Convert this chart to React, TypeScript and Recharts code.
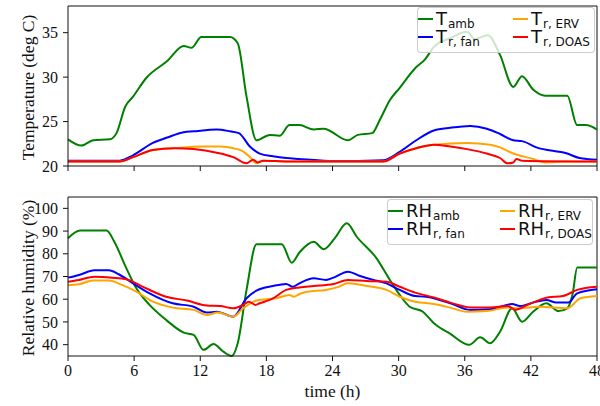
import React from 'react';
import { LineChart, Line, XAxis, YAxis, ReferenceLine } from 'recharts';

// hours on the shared x axis
const hourTicks = [0, 6, 12, 18, 24, 30, 36, 42, 48];
const tempTicks = [20, 25, 30, 35];
const rhTicks = [40, 50, 60, 70, 80, 90, 100];

// [hour, deg C]
const tAmb: [number, number][] = [
  [0, 23.0], [1.2, 22.3], [2.3, 22.9], [3.8, 23.0], [4.4, 23.7], [5.2, 26.7], [5.9, 27.8], [7.1, 29.9],
  [9.0, 31.8], [10.5, 33.5], [11.2, 33.3], [12.1, 34.5], [14.7, 34.5], [15.4, 33.8], [16.2, 27.8], [17.1, 22.9],
  [18.3, 23.5], [19.2, 23.4], [20.1, 24.6], [21.0, 24.6], [22.3, 24.1], [23.2, 24.2], [25.4, 22.9], [26.3, 23.5],
  [27.6, 23.7], [28.3, 25.2], [29.2, 27.4], [30.1, 28.8], [31.5, 31.0], [32.4, 32.0], [33.2, 33.4], [34.7, 34.4],
  [36.2, 35.1], [36.9, 34.3], [38.1, 34.7], [39.2, 32.5], [40.4, 28.9], [41.2, 30.1], [42.2, 28.6], [43.3, 27.9],
  [45.3, 27.9], [46.2, 24.6], [47.0, 24.6], [48, 24.1],
];
const tFan: [number, number][] = [
  [0, 20.6], [4.7, 20.6], [5.9, 21.2], [7.7, 22.6], [9.0, 23.2], [10.5, 23.8], [11.4, 23.9], [13.5, 24.1],
  [14.7, 23.9], [15.5, 23.7], [16.5, 22.2], [17.4, 21.4], [18.6, 21.1], [19.8, 20.9], [21, 20.8], [24.1, 20.55],
  [28.6, 20.65], [30.1, 21.6], [31.6, 22.9], [33.2, 24.0], [34.7, 24.3], [36.5, 24.5], [38, 24.2], [39.2, 23.6],
  [40.4, 22.9], [41.2, 22.8], [42.5, 22.1], [45.3, 21.4], [46.4, 20.9], [48, 20.7],
];
const tErv: [number, number][] = [
  [0, 20.5], [4.7, 20.5], [5.9, 21.0], [7.7, 21.8], [9.6, 22.0], [12.1, 22.2], [13.9, 22.2], [15.0, 22.0],
  [15.8, 21.7], [16.6, 20.9], [17.1, 20.3], [17.6, 20.6], [20, 20.5], [28.6, 20.5], [30.1, 21.4], [31.6, 22.0],
  [33.2, 22.4], [36.2, 22.6], [38.3, 22.4], [39.2, 22.1], [40.4, 21.4], [42.2, 20.8], [43.2, 20.4], [45.3, 20.5],
  [48, 20.5],
];
const tDoas: [number, number][] = [
  [0, 20.5], [4.7, 20.5], [5.9, 21.0], [7.7, 21.8], [9.6, 22.0], [11.4, 21.9], [13.5, 21.5], [15.0, 21.0],
  [16.2, 20.3], [16.8, 20.7], [17.2, 20.4], [17.7, 20.6], [20, 20.5], [28.6, 20.5], [30.1, 21.4], [31.6, 22.0],
  [33.2, 22.4], [34.7, 22.2], [36.2, 21.9], [38, 21.4], [39.2, 20.9], [39.9, 20.3], [40.4, 20.4], [40.7, 20.8],
  [41.2, 20.6], [48, 20.5],
];

// [hour, %]
const rhAmb: [number, number][] = [
  [0, 86.8], [1.1, 90.2], [3.5, 90.2], [4.2, 85.3], [5.3, 73.6], [6.2, 64.8], [7.4, 57.5], [8.9, 50.9],
  [10.5, 45.3], [11.4, 44.3], [12.3, 37.7], [13.2, 40.3], [14.1, 36.9], [14.85, 35.0], [15.4, 40.6], [16.2, 64.1],
  [17.1, 84.2], [19.4, 84.2], [20.3, 76.1], [21.05, 80.9], [22.3, 85.3], [23.2, 82.0], [24.2, 86.8], [25.3, 93.4],
  [26.2, 87.5], [28.0, 78.0], [29.2, 68.5], [30.1, 61.9], [31, 56.7], [32.2, 54.5], [33.2, 49.4], [34.7, 44.7],
  [36.4, 39.9], [37.4, 43.2], [38.3, 40.6], [39.2, 45.7], [40.3, 56.0], [41.2, 50.1], [42.2, 54.5], [43.4, 58.2],
  [44.5, 54.8], [45.3, 56.0], [45.8, 62.6], [46.2, 74.0], [48, 74.0],
];
const rhFan: [number, number][] = [
  [0, 69.5], [1, 70.7], [2.4, 72.7], [3.7, 72.7], [4.6, 71.0], [5.9, 67.0], [7.4, 62.6], [9.5, 58.2],
  [11.4, 56.7], [12.6, 54.1], [13.5, 54.5], [15, 52.3], [16.2, 60.4], [17.1, 63.8], [18.6, 65.8], [19.8, 66.7],
  [20.4, 65.5], [21, 67.0], [22.3, 69.2], [23.4, 68.5], [24.1, 69.5], [25.4, 72.1], [26.5, 70.2], [27.7, 68.5],
  [28.9, 67.0], [30.1, 64.1], [31.5, 61.4], [32.5, 61.1], [34.7, 58.2], [36.5, 55.3], [38.3, 55.6], [40.3, 57.9],
  [41, 57.0], [42.2, 58.5], [43.4, 59.7], [44.3, 58.5], [45.4, 58.5], [46.2, 62.6], [48, 64.4],
];
const rhErv: [number, number][] = [
  [0, 66.1], [1, 66.6], [2.3, 68.2], [3.7, 68.2], [4.9, 66.3], [6.2, 63.3], [7.7, 58.9], [9.5, 56.3],
  [11.4, 55.3], [12.6, 53.1], [13.6, 54.1], [15, 52.3], [15.9, 56.0], [17.1, 59.4], [18.9, 60.4], [20.1, 61.9],
  [20.5, 61.1], [21, 62.3], [21.7, 63.3], [23.4, 64.1], [24.4, 65.2], [25.4, 67.0], [27.1, 65.8], [28.9, 64.1],
  [30.1, 61.1], [31.5, 58.9], [33.2, 57.9], [34.7, 56.3], [36.2, 54.5], [38, 54.8], [39.9, 56.3], [41, 56.0],
  [42.8, 56.7], [45.3, 56.0], [46.5, 60.4], [48, 61.4],
];
const rhDoas: [number, number][] = [
  [0, 67.7], [1, 68.5], [2.4, 69.9], [4, 69.5], [5.3, 68.8], [6.9, 65.2], [8.9, 61.1], [10.8, 59.4],
  [12.6, 57.2], [13.8, 57.0], [15, 56.0], [15.9, 57.5], [16.4, 58.9], [17, 57.5], [17.4, 58.2], [18.6, 60.4],
  [19.8, 64.1], [21, 65.2], [22.3, 65.8], [24.1, 66.7], [25.4, 68.5], [27.1, 68.0], [28.9, 67.7], [30.1, 65.5],
  [31.5, 62.9], [33.2, 60.8], [34.7, 58.5], [36.5, 56.4], [38.3, 56.3], [39.9, 57.0], [40.6, 55.3], [41.7, 57.5],
  [43.5, 60.8], [44.9, 61.4], [46.2, 64.1], [48, 65.5],
];

const GREEN = '#008000';
const BLUE = '#0000ff';
const ORANGE = '#ffa500';
const RED = '#ff0000';

const toRows = (pts: [number, number][]) => pts.map(([t, v]) => ({ t, v }));

const SERIF = '"Liberation Serif", "Times New Roman", serif';
const SANS = '"DejaVu Sans", sans-serif';
const tickStyle = { fontSize: 16, fill: '#111', fontFamily: SERIF };

type LegendEntry = { main: string; sub: string; color: string };

const tempLegend: LegendEntry[] = [
  { main: 'T', sub: 'amb', color: GREEN },
  { main: 'T', sub: 'r, fan', color: BLUE },
  { main: 'T', sub: 'r, ERV', color: ORANGE },
  { main: 'T', sub: 'r, DOAS', color: RED },
];
const rhLegend: LegendEntry[] = [
  { main: 'RH', sub: 'amb', color: GREEN },
  { main: 'RH', sub: 'r, fan', color: BLUE },
  { main: 'RH', sub: 'r, ERV', color: ORANGE },
  { main: 'RH', sub: 'r, DOAS', color: RED },
];

// matplotlib-style legend frame, laid over the plot area
const LegendBox = ({ items, col2, box }: { items: LegendEntry[]; col2: number; box: any }) => (
  <div
    style={{
      position: 'absolute',
      ...box,
      boxSizing: 'border-box',
      background: 'rgba(255,255,255,0.8)',
      border: '1px solid rgba(200,200,200,0.9)',
      borderRadius: 4,
      fontFamily: SANS,
      color: '#111',
    }}
  >
    {items.map((it, i) => (
      <div
        key={i}
        style={{
          position: 'absolute',
          left: i < 2 ? 0 : col2,
          top: 2 + (i % 2) * 18,
          height: 18,
          display: 'flex',
          alignItems: 'center',
          whiteSpace: 'nowrap',
        }}
      >
        <span style={{ display: 'inline-block', width: 15, height: 2.5, background: it.color, marginRight: 3 }} />
        <span style={{ fontSize: 18, lineHeight: '18px' }}>{it.main}</span>
        <span style={{ fontSize: 12, lineHeight: '12px', position: 'relative', top: 5, marginLeft: 1 }}>{it.sub}</span>
      </div>
    ))}
  </div>
);

const YTitle = ({ viewBox, text, x }: any) => {
  const cy = viewBox.y + viewBox.height / 2 + 1.5;
  return (
    <text x={x} y={cy} transform={`rotate(-90, ${x}, ${cy})`} textAnchor="middle" fontSize={17.5} fontFamily={SERIF} fill="#111">
      {text}
    </text>
  );
};

const XTitle = ({ viewBox }: any) => {
  const cx = viewBox.x + viewBox.width / 2;
  return (
    <text x={cx} y={viewBox.y + 41} textAnchor="middle" fontSize={17.5} fontFamily={SERIF} fill="#111">
      time (h)
    </text>
  );
};

export default function App() {
  return (
    <div style={{ position: 'absolute', left: 0, top: 0, width: 600, height: 406, background: '#fff' }}>
      <div style={{ position: 'absolute', left: 0, top: 0 }}>
        <LineChart width={600} height={180} margin={{ top: 6, right: 3, bottom: 0, left: 0 }}>
          <XAxis
            dataKey="t"
            type="number"
            domain={[0, 48]}
            ticks={hourTicks}
            interval={0}
            height={14}
            tickSize={5}
            tickFormatter={() => ''}
            stroke="#111"
          />
          <YAxis
            type="number"
            domain={[20, 38]}
            ticks={tempTicks}
            interval={0}
            width={68}
            tickSize={5}
            tickMargin={5}
            tick={tickStyle}
            stroke="#111"
            label={<YTitle text="Temperature (deg C)" x={31.5} />}
          />
          <ReferenceLine y={38} stroke="#111" />
          <ReferenceLine x={48} stroke="#111" />
          <Line data={toRows(tAmb)} dataKey="v" type="monotone" stroke={GREEN} strokeWidth={2} dot={false} isAnimationActive={false} />
          <Line data={toRows(tFan)} dataKey="v" type="monotone" stroke={BLUE} strokeWidth={2} dot={false} isAnimationActive={false} />
          <Line data={toRows(tErv)} dataKey="v" type="monotone" stroke={ORANGE} strokeWidth={2} dot={false} isAnimationActive={false} />
          <Line data={toRows(tDoas)} dataKey="v" type="monotone" stroke={RED} strokeWidth={2} dot={false} isAnimationActive={false} />
        </LineChart>
      </div>
      <div style={{ position: 'absolute', left: 0, top: 172 }}>
        <LineChart width={600} height={234} margin={{ top: 25, right: 3, bottom: 0, left: 0 }}>
          <XAxis
            dataKey="t"
            type="number"
            domain={[0, 48]}
            ticks={hourTicks}
            interval={0}
            height={50}
            tickSize={5}
            tickMargin={4}
            tick={tickStyle}
            stroke="#111"
            label={<XTitle />}
          />
          <YAxis
            type="number"
            domain={[35, 105]}
            ticks={rhTicks}
            interval={0}
            width={68}
            tickSize={5}
            tickMargin={5}
            tick={tickStyle}
            stroke="#111"
            label={<YTitle text="Relative humidity (%)" x={22} />}
          />
          <ReferenceLine y={105} stroke="#111" />
          <ReferenceLine x={48} stroke="#111" />
          <Line data={toRows(rhAmb)} dataKey="v" type="monotone" stroke={GREEN} strokeWidth={2} dot={false} isAnimationActive={false} />
          <Line data={toRows(rhFan)} dataKey="v" type="monotone" stroke={BLUE} strokeWidth={2} dot={false} isAnimationActive={false} />
          <Line data={toRows(rhErv)} dataKey="v" type="monotone" stroke={ORANGE} strokeWidth={2} dot={false} isAnimationActive={false} />
          <Line data={toRows(rhDoas)} dataKey="v" type="monotone" stroke={RED} strokeWidth={2} dot={false} isAnimationActive={false} />
        </LineChart>
      </div>
      <LegendBox items={tempLegend} col2={95} box={{ left: 417, top: 7, width: 178, height: 46 }} />
      <LegendBox items={rhLegend} col2={112} box={{ left: 387, top: 199, width: 206, height: 46 }} />
    </div>
  );
}
